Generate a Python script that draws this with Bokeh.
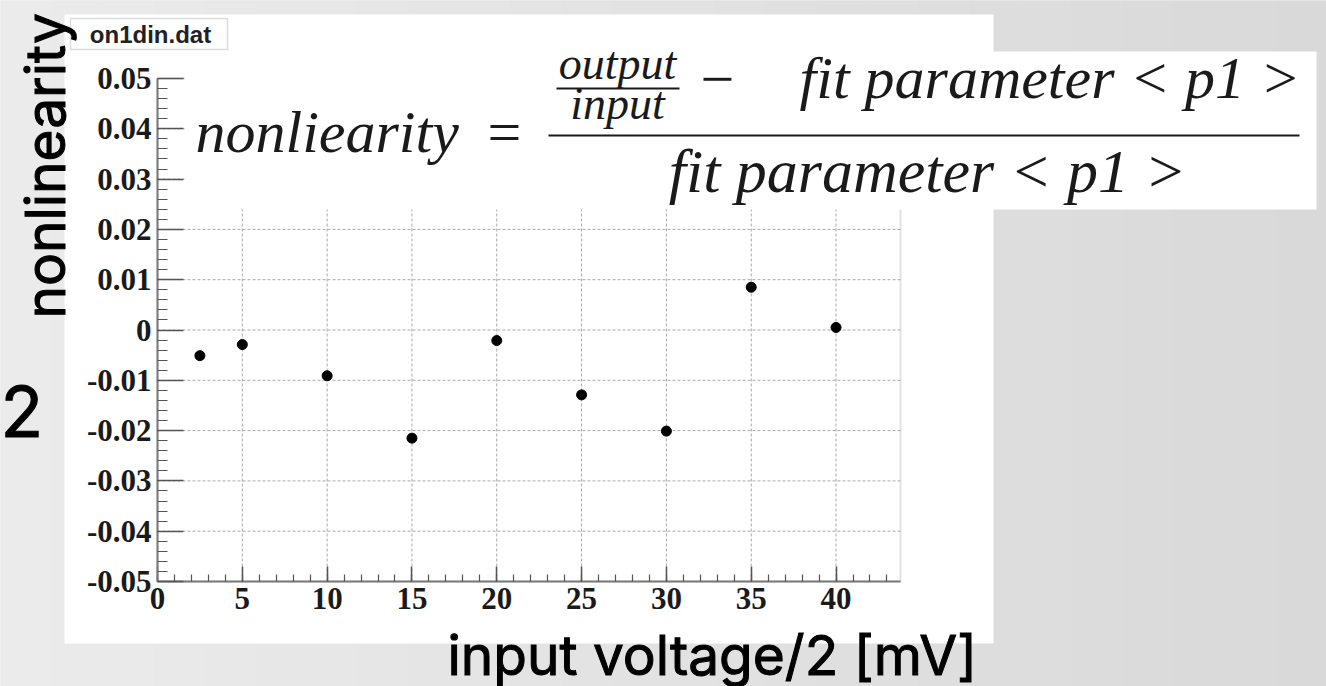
import numpy as np
from bokeh.plotting import figure
from bokeh.models import Range1d, FixedTicker, BoxAnnotation, Label, LinearAxis
from bokeh.embed import file_html
from bokeh.resources import INLINE

# ---------------- data ----------------
input_voltage = [2.5, 5, 10, 15, 20, 25, 30, 35, 40]
nonlinearity = [-0.0051, -0.0029, -0.0091, -0.0215, -0.0021, -0.0129, -0.0201, 0.0085, 0.0005]

x_tick_values = [0, 5, 10, 15, 20, 25, 30, 35, 40]
x_tick_labels = ["0", "5", "10", "15", "20", "25", "30", "35", "40"]
y_tick_values = [-0.05, -0.04, -0.03, -0.02, -0.01, 0, 0.01, 0.02, 0.03, 0.04, 0.05]
y_tick_labels = ["-0.05", "-0.04", "-0.03", "-0.02", "-0.01", "0",
                 "0.01", "0.02", "0.03", "0.04", "0.05"]

x_title = "input voltage/2 [mV]"
y_title = "nonlinearity"
legend_box_text = "on1din.dat"
slide_digit = "2"

# ---------------- layout ----------------
W, H = 1326, 686
FL, FR, FT, FB = 157, 900, 78, 581          # ROOT frame edges in pixels
XMIN, XMAX = 0.0, 43.8
YMIN, YMAX = -0.05, 0.05


def PX(px):
    return XMIN + (px - FL) * (XMAX - XMIN) / (FR - FL)


def PY(py):
    return YMAX - (py - FT) * (YMAX - YMIN) / (FB - FT)


p = figure(width=W, height=H, output_backend="svg", toolbar_location=None,
           x_range=Range1d(PX(0), PX(W)), y_range=Range1d(PY(H), PY(0)),
           x_axis_location=None, y_axis_location=None, min_border=0)
p.grid.visible = False
p.outline_line_color = None
p.background_fill_color = "#e3e3e3"
p.border_fill_color = "#e3e3e3"

# background gradient bands (slide)
n_bands = 26
for i in range(n_bands):
    x0 = i * W / n_bands
    x1 = (i + 1) * W / n_bands + 1
    t = i / (n_bands - 1)
    c = int(round(0xeb + (0xd9 - 0xeb) * t))
    col = "#%02x%02x%02x" % (c, c, c)
    p.add_layout(BoxAnnotation(left=PX(x0), right=PX(x1), top=PY(-5), bottom=PY(H + 5),
                               fill_color=col, fill_alpha=1, line_color=None, level="image"))

# ROOT canvas (white)
p.add_layout(BoxAnnotation(left=PX(64), right=PX(993), top=PY(14), bottom=PY(643),
                           fill_color="white", fill_alpha=1, line_color=None, level="image"))

# ---------------- grid ----------------
gkw = dict(line_color="#a8a8a8", line_dash="3 2", line_width=1)
p.segment(x0=x_tick_values, y0=[YMIN] * len(x_tick_values),
          x1=x_tick_values, y1=[YMAX] * len(x_tick_values), **gkw)
p.segment(x0=[XMIN] * len(y_tick_values), y0=y_tick_values,
          x1=[XMAX] * len(y_tick_values), y1=y_tick_values, **gkw)

# frame outline
p.add_layout(BoxAnnotation(left=XMIN, right=XMAX, top=YMAX, bottom=YMIN,
                           fill_alpha=0, line_color="#a0a0a0", line_width=2, level="underlay"))

# ---------------- axes ----------------
xt = FixedTicker(ticks=x_tick_values, minor_ticks=list(np.arange(0, 44, 1.0)))
yt = FixedTicker(ticks=y_tick_values,
                 minor_ticks=list(np.round(np.arange(-0.05, 0.0501, 0.002), 4)))
xaxis = LinearAxis(ticker=xt, fixed_location=YMIN, bounds=(XMIN, XMAX),
                   major_label_overrides=dict(zip(x_tick_values, x_tick_labels)))
yaxis = LinearAxis(ticker=yt, fixed_location=XMIN, bounds=(YMIN, YMAX),
                   major_label_overrides=dict(zip(y_tick_values, y_tick_labels)))

for ax, tin, mtin, fs, so in ((xaxis, 15, 7, "31px", 6), (yaxis, 26, 10, "31px", 6)):
    ax.axis_line_color = "#7a7a7a"
    ax.axis_line_width = 2
    ax.major_tick_in = tin
    ax.major_tick_out = 0
    ax.minor_tick_in = mtin
    ax.minor_tick_out = 0
    ax.major_tick_line_color = "#555555"
    ax.minor_tick_line_color = "#555555"
    ax.major_tick_line_width = 1.5
    ax.minor_tick_line_width = 1.2
    ax.major_label_text_font = "Liberation Serif"
    ax.major_label_text_font_style = "bold"
    ax.major_label_text_font_size = fs
    ax.major_label_text_color = "#1a1a1a"
    ax.major_label_standoff = so
p.add_layout(xaxis, "below")
p.add_layout(yaxis, "left")

# ---------------- points ----------------
p.scatter(input_voltage, nonlinearity, size=10, color="black")

# ---------------- annotations ----------------
# legend box "on1din.dat"
p.add_layout(BoxAnnotation(left=PX(70), right=PX(227), top=PY(18), bottom=PY(49),
                           fill_color="white", fill_alpha=1, line_color="#8a8a8a", line_width=1.5))
p.add_layout(Label(x=PX(150), y=PY(34), text=legend_box_text, text_align="center",
                   text_baseline="middle", text_font="Liberation Sans", text_font_style="bold",
                   text_font_size="24px", text_color="#222222"))

# formula box
p.add_layout(BoxAnnotation(left=PX(184), right=PX(1316), top=PY(51), bottom=PY(209),
                           fill_color="white", fill_alpha=1, line_color=None))

fkw = dict(text_font="Liberation Serif", text_font_style="italic", text_color="#1a1a1a",
           text_baseline="alphabetic")
ukw = dict(text_font="Liberation Serif", text_color="#1a1a1a", text_baseline="alphabetic")
p.add_layout(Label(x=PX(195), y=PY(131), text="nonliearity", text_align="left",
                   text_font_size="60px", **fkw))
p.add_layout(Label(x=PX(504), y=PY(131), text="=", text_align="center",
                   text_font_size="60px", **ukw))
# numerator: small fraction output/input
p.add_layout(Label(x=PX(617), y=PY(63), text="output", text_align="center",
                   text_font_size="46px", **fkw))
p.add_layout(BoxAnnotation(left=PX(556), right=PX(679), top=PY(87), bottom=PY(89),
                           fill_color="#1a1a1a", fill_alpha=1, line_color=None))
p.add_layout(Label(x=PX(617), y=PY(103), text="input", text_align="center",
                   text_font_size="46px", **fkw))
p.add_layout(Label(x=PX(717), y=PY(79), text="\u2212", text_align="center",
                   text_font_size="60px", **ukw))
p.add_layout(Label(x=PX(1300), y=PY(77), text="fit parameter < p1 >", text_align="right",
                   text_font_size="60px", **fkw))
# main fraction bar
p.add_layout(BoxAnnotation(left=PX(548), right=PX(1299), top=PY(134), bottom=PY(136),
                           fill_color="#1a1a1a", fill_alpha=1, line_color=None))
p.add_layout(Label(x=PX(927), y=PY(170), text="fit parameter < p1 >", text_align="center",
                   text_font_size="62px", **fkw))

# slide texts
skw = dict(text_font="Inter", text_color="black", text_outline_color="black",
           text_baseline="alphabetic")
p.add_layout(Label(x=PX(44), y=PY(318), text=y_title, angle=np.pi / 2, text_align="left",
                   text_font_size="55px", **skw))
p.add_layout(Label(x=PX(447), y=PY(654), text=x_title, text_align="left",
                   text_font_size="55px", **skw))
p.add_layout(Label(x=PX(0), y=PY(411), text=slide_digit, text_align="left",
                   text_font_size="70px", **skw))

open("out.html", "w").write(file_html(p, INLINE))
